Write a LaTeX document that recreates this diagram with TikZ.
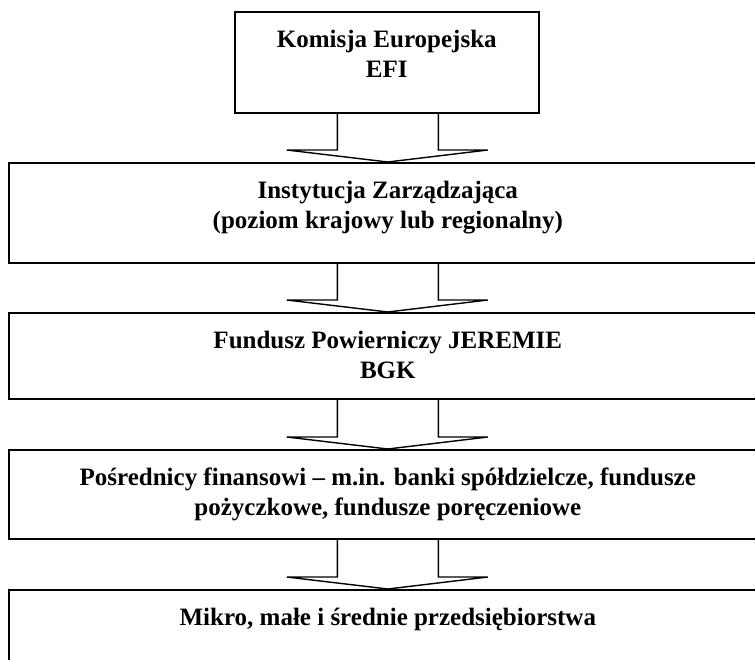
\documentclass[tikz,border=0pt]{standalone}
\usepackage{fontspec}
\setmainfont{Liberation Serif}
\usetikzlibrary{calc}

\tikzset{
  blok/.style={draw, rectangle, line width=1.6pt, anchor=north west, inner sep=0pt},
  napis/.style={anchor=north, align=center, inner sep=0pt,
                font=\fontsize{25}{30}\selectfont\bfseries},
  strzalka/.style={line width=1.4pt, line join=miter}
}

\begin{document}
\begin{tikzpicture}[x=1pt, y=1pt]
\useasboundingbox (0,0) rectangle (755,-659);

% === Prostokaty ===
\node[blok, minimum width=304pt, minimum height=101pt] (komisja) at (234,-11) {};
\node[blok, minimum width=758pt, minimum height=100pt] (instytucja) at (8,-162) {};
\node[blok, minimum width=758pt, minimum height=86pt] (fundusz) at (8,-312) {};
\node[blok, minimum width=758pt, minimum height=89pt] (posrednicy) at (8,-449) {};
\node[blok, minimum width=758pt, minimum height=110pt] (mikro) at (8,-589) {};

% === Napisy ===
\node[napis] (komisja-t) at ($(komisja.north)+(0,-19)$) {Komisja Europejska\\EFI};
\node[napis] (instytucja-t) at ($(instytucja.north)+(0,-19)$) {Instytucja Zarządzająca\\(poziom krajowy lub regionalny)};
\node[napis] (fundusz-t) at ($(fundusz.north)+(0,-19)$) {Fundusz Powierniczy JEREMIE\\BGK};
\node[napis] (posrednicy-t) at ($(posrednicy.north)+(0,-19)$) {Pośrednicy finansowi – m.in. banki spółdzielcze, fundusze\\pożyczkowe, fundusze poręczeniowe};
\node[napis] (mikro-t) at ($(mikro.north)+(0,-19)$) {Mikro, małe i średnie przedsiębiorstwa};

% === Strzalki blokowe ===
\foreach \a/\b in {komisja/instytucja, instytucja/fundusz, fundusz/posrednicy, posrednicy/mikro} {
  \draw[strzalka] let \p1=(\a.south), \p2=(\b.north) in
    (\x2-50.5pt,\y1) -- (\x2-50.5pt,\y2+12pt) -- (\x2-101pt,\y2+12pt) -- (\p2)
    -- (\x2+100pt,\y2+12pt) -- (\x2+50.5pt,\y2+12pt) -- (\x2+50.5pt,\y1);
}

\end{tikzpicture}
\end{document}
